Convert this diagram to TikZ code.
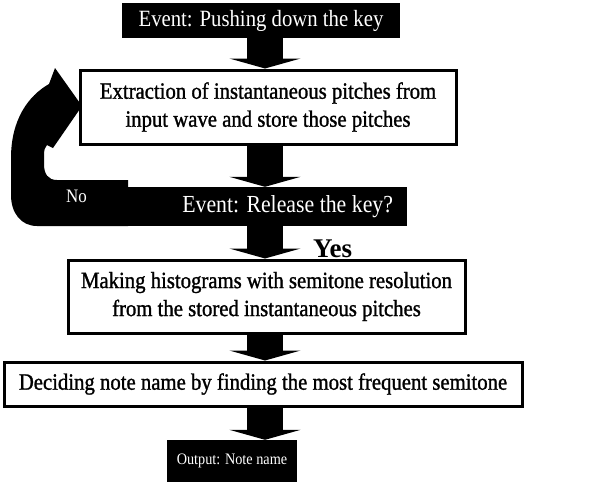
\documentclass[tikz,border=0pt]{standalone}
\usepackage{fontspec}
\setmainfont{Liberation Serif}
\newfontfamily\inkfont[FakeBold=1.2,FakeStretch=0.89]{Liberation Serif}
\newfontfamily\paperfont[FakeStretch=0.89]{Liberation Serif}
\usetikzlibrary{arrows.meta}
\tikzset{
  txt/.style={font=\paperfont\fontsize{23.3}{28}\selectfont},
  wbox/.style={font=\inkfont\fontsize{23.3}{28}\selectfont, draw=black, line width=3pt, fill=white, align=center, inner sep=0pt},
  bbox/.style={txt, fill=black, text=white, align=center, inner sep=0pt},
  flow/.style={line width=36pt, -{Triangle[length=10pt,width=71pt]}},
}
\begin{document}
\begin{tikzpicture}[x=1pt,y=-1pt]
  \useasboundingbox (0,0) rectangle (589,482);
  \fill[white] (0,0) rectangle (589,482);
  \coordinate (ax) at (265,0);
  % loop arrow (No)
  \fill[black] (128,180) -- (57,180) .. controls (48,180) and (44,174) .. (44,164)
     -- (44,155) .. controls (44,150) and (45,147) .. (47,145) -- (53,148) -- (82,106)
     -- (55,68) -- (49,84) .. controls (28,96) and (11,120) .. (11,158)
     -- (11,195) .. controls (11,213) and (21,226) .. (37,226) -- (128,226) -- cycle;
  \node[bbox, minimum width=278pt, minimum height=35pt] (b1) at (261,20.5) {Event: Pushing down the key};
  \node[wbox, minimum width=376pt, minimum height=74pt] (b2) at (268,107) {Extraction of instantaneous pitches from\\input wave and store those pitches};
  \node[bbox, minimum width=281pt, minimum height=39pt] (b3) at (266.5,206.5) {};
  \node[font=\paperfont\fontsize{24.5}{28}\selectfont, text=white, anchor=east, inner sep=0pt] (b3t) at ([xshift=-14pt]b3.east) {Event: Release the key?};
  \node[wbox, minimum width=397pt, minimum height=73pt] (b4) at (266.5,296.5) {Making histograms with semitone resolution\\from the stored instantaneous pitches};
  \node[wbox, minimum width=518pt, minimum height=44pt] (b5) at (263,384) {Deciding note name by finding the most frequent semitone};
  \node[fill=black, text=white, inner sep=0pt, minimum width=130pt, minimum height=42pt, font=\paperfont\fontsize{16}{18}\selectfont] (b6) at (232,461) {Output: Note name};
  \node[anchor=base west, font=\paperfont\fontsize{19}{22}\selectfont, text=white, inner sep=0pt] (no) at (66,202) {No};
  \node[anchor=base west, font=\bfseries\fontsize{27}{32}\selectfont, inner sep=0pt] (yes) at (313,257) {Yes};
  % arrows
  \draw[flow] (b1.south -| ax) -- (b2.north -| ax);
  \draw[flow] (b2.south -| ax) -- (b3.north -| ax);
  \draw[flow] (b3.south -| ax) -- (b4.north -| ax);
  \draw[flow] (b4.south -| ax) -- (b5.north -| ax);
  \draw[flow] (b5.south -| ax) -- (b6.north -| ax);
\end{tikzpicture}
\end{document}
